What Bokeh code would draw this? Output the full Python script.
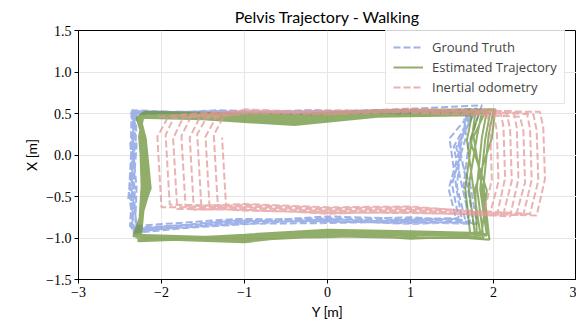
from bokeh.plotting import figure
from bokeh.models import FixedTicker, CustomJSTickFormatter
from bokeh.embed import file_html
from bokeh.resources import INLINE

# ---------------- data (Y [m] horizontal, X [m] vertical), one list per loop ----------------
gt_start_y = [-2.40]
gt_start_x = [-0.53]
gt_y = [
    [-2.31, -1.30, -0.20, 0.90, 1.70, 1.61, 1.56, 1.66, 1.00, 0.00, -1.10, -2.29, -2.36, -2.34],
    [-2.34, -1.30, -0.20, 0.90, 1.76, 1.52, 1.63, 1.72, 1.00, 0.00, -1.10, -2.33, -2.38, -2.31],
    [-2.30, -1.30, -0.20, 0.90, 1.64, 1.67, 1.50, 1.58, 1.00, 0.00, -1.10, -2.36, -2.33, -2.37],
    [-2.36, -1.30, -0.20, 0.90, 1.80, 1.58, 1.69, 1.76, 1.00, 0.00, -1.10, -2.32, -2.30, -2.35],
    [-2.32, -1.30, -0.20, 0.90, 1.72, 1.47, 1.56, 1.62, 1.00, 0.00, -1.10, -2.38, -2.35, -2.32],
    [-2.37, -1.30, -0.20, 0.90, 1.86, 1.70, 1.64, 1.70, 1.00, 0.00, -1.10, -2.34, -2.39, -2.36],
    [-2.33, -1.30, -0.20, 0.90, 1.68, 1.62, 1.46, 1.55, 1.00, 0.00, -1.10, -2.30, -2.34, -2.30],
    [-2.35, -1.30, -0.20, 0.90, 1.78, 1.55, 1.72, 1.80, 1.00, 0.00, -1.10, -2.36, -2.32, -2.38],
]
gt_x = [
    [0.50, 0.53, 0.51, 0.54, 0.50, 0.18, -0.38, -0.78, -0.79, -0.76, -0.80, -0.90, -0.42, 0.12],
    [0.52, 0.50, 0.53, 0.51, 0.53, 0.10, -0.42, -0.80, -0.82, -0.80, -0.78, -0.93, -0.38, 0.18],
    [0.49, 0.54, 0.50, 0.52, 0.51, 0.22, -0.35, -0.76, -0.77, -0.74, -0.81, -0.88, -0.45, 0.10],
    [0.53, 0.51, 0.54, 0.50, 0.56, 0.14, -0.40, -0.82, -0.80, -0.82, -0.83, -0.91, -0.40, 0.15],
    [0.50, 0.52, 0.49, 0.53, 0.50, 0.20, -0.44, -0.79, -0.75, -0.78, -0.77, -0.86, -0.36, 0.20],
    [0.54, 0.50, 0.52, 0.55, 0.60, 0.12, -0.37, -0.81, -0.83, -0.79, -0.82, -0.94, -0.43, 0.14],
    [0.51, 0.53, 0.50, 0.51, 0.52, 0.17, -0.41, -0.77, -0.78, -0.81, -0.79, -0.89, -0.39, 0.11],
    [0.52, 0.49, 0.53, 0.52, 0.54, 0.09, -0.36, -0.83, -0.81, -0.77, -0.84, -0.92, -0.44, 0.17],
]

est_y = [
    [-2.28, -1.5, -0.4, 0.6, 1.78, 1.74, 1.66, 1.72, 1.0, 0.0, -1.0, -2.30, -2.20, -2.24],
    [-2.25, -1.5, -0.4, 0.6, 1.86, 1.80, 1.70, 1.78, 1.0, 0.0, -1.0, -2.33, -2.16, -2.22],
    [-2.30, -1.5, -0.4, 0.6, 1.74, 1.68, 1.76, 1.84, 1.0, 0.0, -1.0, -2.27, -2.22, -2.27],
    [-2.22, -1.5, -0.4, 0.6, 1.92, 1.86, 1.80, 1.88, 1.0, 0.0, -1.0, -2.31, -2.14, -2.20],
    [-2.27, -1.5, -0.4, 0.6, 1.96, 1.90, 1.84, 1.92, 1.0, 0.0, -1.0, -2.25, -2.19, -2.25],
    [-2.24, -1.5, -0.4, 0.6, 2.00, 1.94, 1.88, 1.95, 1.0, 0.0, -1.0, -2.32, -2.17, -2.21],
    [-2.29, -1.5, -0.4, 0.6, 1.82, 1.72, 1.92, 1.86, 1.0, 0.0, -1.0, -2.28, -2.24, -2.26],
    [-2.21, -1.5, -0.4, 0.6, 2.02, 1.98, 1.78, 1.80, 1.0, 0.0, -1.0, -2.34, -2.13, -2.19],
    [-2.26, -1.5, -0.4, 0.6, 1.90, 1.76, 1.86, 1.93, 1.0, 0.0, -1.0, -2.29, -2.18, -2.23],
]
est_x = [
    [0.47, 0.45, 0.40, 0.48, 0.50, 0.20, -0.40, -0.96, -0.94, -0.92, -0.98, -1.00, -0.40, 0.20],
    [0.49, 0.48, 0.45, 0.50, 0.52, 0.22, -0.38, -0.98, -0.97, -0.96, -1.02, -0.97, -0.42, 0.18],
    [0.45, 0.43, 0.36, 0.46, 0.48, 0.18, -0.42, -0.94, -0.92, -0.90, -0.96, -1.03, -0.38, 0.22],
    [0.51, 0.50, 0.48, 0.52, 0.53, 0.21, -0.39, -1.00, -1.00, -0.98, -1.03, -0.99, -0.41, 0.19],
    [0.48, 0.46, 0.42, 0.49, 0.51, 0.19, -0.41, -0.97, -1.01, -0.94, -1.05, -1.01, -0.39, 0.21],
    [0.50, 0.49, 0.47, 0.53, 0.54, 0.23, -0.37, -1.02, -0.95, -0.99, -1.00, -0.96, -0.43, 0.17],
    [0.46, 0.44, 0.38, 0.47, 0.49, 0.17, -0.43, -0.93, -0.98, -0.91, -0.99, -1.04, -0.37, 0.23],
    [0.52, 0.51, 0.49, 0.54, 0.55, 0.20, -0.40, -0.99, -1.00, -0.97, -1.02, -0.98, -0.40, 0.20],
    [0.47, 0.47, 0.43, 0.50, 0.52, 0.22, -0.38, -0.95, -0.96, -0.93, -1.01, -1.00, -0.42, 0.18],
]

io_y = [
    [-2.03, -1.0, 0.0, 1.0, 1.92, 1.96, 1.98, 1.88, 1.0, 0.0, -1.0, -2.00, -2.02, -2.05],
    [-1.93, -1.0, 0.0, 1.0, 2.00, 2.04, 2.06, 1.96, 1.0, 0.0, -1.0, -1.90, -1.92, -1.95],
    [-1.84, -1.0, 0.0, 1.0, 2.08, 2.12, 2.14, 2.04, 1.0, 0.0, -1.0, -1.81, -1.83, -1.86],
    [-1.74, -1.0, 0.0, 1.0, 2.16, 2.20, 2.22, 2.12, 1.0, 0.0, -1.0, -1.71, -1.73, -1.76],
    [-1.64, -1.0, 0.0, 1.0, 2.24, 2.28, 2.30, 2.20, 1.0, 0.0, -1.0, -1.61, -1.63, -1.66],
    [-1.55, -1.0, 0.0, 1.0, 2.32, 2.36, 2.38, 2.28, 1.0, 0.0, -1.0, -1.52, -1.54, -1.57],
    [-1.45, -1.0, 0.0, 1.0, 2.40, 2.44, 2.46, 2.36, 1.0, 0.0, -1.0, -1.42, -1.44, -1.47],
    [-1.35, -1.0, 0.0, 1.0, 2.48, 2.52, 2.54, 2.44, 1.0, 0.0, -1.0, -1.32, -1.34, -1.37],
    [-1.25, -1.0, 0.0, 1.0, 2.56, 2.60, 2.62, 2.52, 1.0, 0.0, -1.0, -1.22, -1.24, -1.27],
]
io_x = [
    [0.46, 0.52, 0.50, 0.53, 0.52, 0.32, -0.30, -0.72, -0.66, -0.68, -0.63, -0.63, -0.30, 0.22],
    [0.44, 0.50, 0.53, 0.51, 0.48, 0.30, -0.32, -0.70, -0.64, -0.65, -0.61, -0.60, -0.28, 0.24],
    [0.48, 0.54, 0.51, 0.55, 0.54, 0.34, -0.28, -0.73, -0.69, -0.70, -0.66, -0.65, -0.32, 0.20],
    [0.45, 0.51, 0.49, 0.52, 0.50, 0.31, -0.31, -0.71, -0.62, -0.63, -0.59, -0.62, -0.29, 0.23],
    [0.47, 0.53, 0.52, 0.54, 0.53, 0.33, -0.29, -0.74, -0.67, -0.71, -0.64, -0.66, -0.31, 0.21],
    [0.43, 0.50, 0.50, 0.52, 0.46, 0.29, -0.33, -0.70, -0.65, -0.66, -0.62, -0.61, -0.27, 0.25],
    [0.46, 0.52, 0.54, 0.53, 0.51, 0.32, -0.30, -0.72, -0.70, -0.69, -0.67, -0.64, -0.30, 0.22],
    [0.44, 0.55, 0.51, 0.56, 0.49, 0.30, -0.31, -0.71, -0.63, -0.64, -0.60, -0.63, -0.29, 0.24],
    [0.47, 0.51, 0.52, 0.54, 0.52, 0.33, -0.29, -0.73, -0.68, -0.67, -0.65, -0.65, -0.31, 0.21],
]

x_ticks = [-3, -2, -1, 0, 1, 2, 3]
y_ticks = [-1.5, -1.0, -0.5, 0.0, 0.5, 1.0, 1.5]

labels = ["Ground Truth", "Estimated Trajectory", "Inertial odometry"]
colors = ["#7f99e2", "#6c9138", "#e39898"]


def chain(loops):
    out = []
    for lp in loops:
        out += lp
    return out


p = figure(frame_width=498, frame_height=249, x_range=(-3, 3), y_range=(-1.5, 1.5),
           output_backend="svg", toolbar_location=None,
           min_border_left=78, min_border_right=0, min_border_top=21, min_border_bottom=36,
           title="Pelvis Trajectory - Walking")

p.line(gt_start_y + chain(gt_y), gt_start_x + chain(gt_x), line_color=colors[0], line_width=2,
       line_alpha=0.75, line_dash="7 3", legend_label=labels[0])
p.line(chain(est_y), chain(est_x), line_color=colors[1], line_width=2,
       line_alpha=0.75, legend_label=labels[1])
p.line(chain(io_y), chain(io_x), line_color=colors[2], line_width=2,
       line_alpha=0.75, line_dash="7 3", legend_label=labels[2])

p.title.align = "center"
p.title.text_font = "Lato"
p.title.text_font_size = "16px"
p.title.text_font_style = "normal"
p.title.text_color = "#000000"
p.title.standoff = 9

p.xaxis.axis_label = "Y [m]"
p.yaxis.axis_label = "X [m]"
for ax in (p.xaxis, p.yaxis):
    ax.axis_label_text_font = "Lato"
    ax.axis_label_text_font_size = "14px"
    ax.axis_label_text_font_style = "normal"
    ax.axis_label_text_color = "#000000"
    ax.major_label_text_font = "Liberation Serif"
    ax.major_label_text_font_size = "14px"
    ax.major_label_text_color = "#000000"
    ax.axis_line_color = "#000000"
    ax.major_tick_line_color = "#000000"
    ax.major_tick_out = 4
    ax.major_tick_in = 0
    ax.minor_tick_line_color = None
    ax.major_label_standoff = 3
    ax.axis_label_standoff = 3

p.xaxis.ticker = FixedTicker(ticks=x_ticks)
p.yaxis.ticker = FixedTicker(ticks=y_ticks)
p.xaxis.formatter = CustomJSTickFormatter(code="return (tick < 0 ? '\u2212' : '') + Math.abs(tick).toFixed(0);")
p.yaxis.formatter = CustomJSTickFormatter(code="return (tick < 0 ? '\u2212' : '') + Math.abs(tick).toFixed(1);")

p.grid.grid_line_color = "#e6e6e6"
p.grid.grid_line_width = 1
p.outline_line_color = "#000000"
p.outline_line_alpha = 1

lg = p.legend[0]
lg.location = (307, 175)
lg.label_text_font = "Open Sans"
lg.label_text_font_size = "13px"
lg.glyph_width = 30
lg.glyph_height = 16
lg.label_height = 17
lg.spacing = 2
lg.padding = 7
lg.label_standoff = 9
lg.border_line_color = "#cccccc"
lg.background_fill_alpha = 0.85

open("out.html", "w").write(file_html(p, INLINE))
